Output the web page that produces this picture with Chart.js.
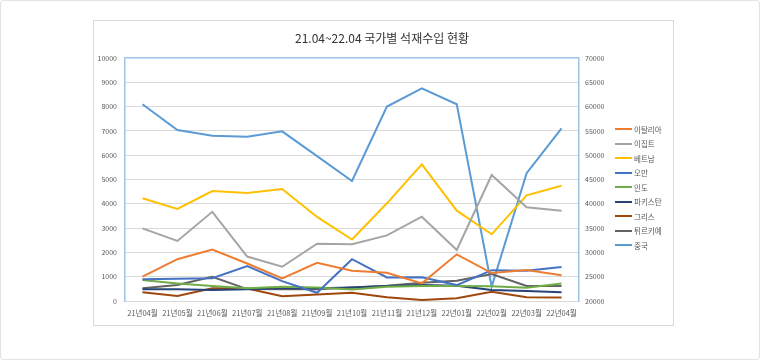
<!DOCTYPE html>
<html><head><meta charset="utf-8">
<script src="https://cdn.jsdelivr.net/npm/chart.js@4.4.1/dist/chart.umd.min.js"></script>
<style>
html,body{margin:0;padding:0;background:#fff;}
#page{position:relative;width:760px;height:360px;overflow:hidden;}
#outer{position:absolute;left:0;top:0;width:760px;height:360px;box-sizing:border-box;border:1px solid #e3e3e3;border-radius:3px;}
#frame{position:absolute;left:93px;top:20px;width:581px;height:306px;box-sizing:border-box;border:1px solid #d9d9d9;}
canvas{position:absolute;left:0;top:0;}
#legend{position:absolute;left:615px;top:121.75px;font-family:'Noto Sans CJK KR';font-size:7.5px;color:#595959;}
.item{height:14.5px;display:flex;align-items:center;white-space:nowrap;}
.swatch{width:17px;height:2px;margin-right:2px;}
</style></head>
<body>
<div id="page">
  <div id="outer"></div>
  <div id="frame"></div>
  <canvas id="c" width="760" height="360"></canvas>
  <div id="legend"></div>
</div>
<script>
const months = ['21년04월','21년05월','21년06월','21년07월','21년08월','21년09월','21년10월','21년11월','21년12월','22년01월','22년02월','22년03월','22년04월'];
const seriesNames = ['이탈리아','이집트','베트남','오만','인도','파키스탄','그리스','튀르키예','중국'];
const seriesColors = ['#ED7D31','#A5A5A5','#FFC000','#4472C4','#70AD47','#264478','#9E480E','#636363','#5B9BD5'];
const italy    = [1000, 1720, 2120, 1545,  930, 1575, 1245, 1165,  725, 1920, 1150, 1280, 1060];
const egypt    = [2990, 2470, 3670, 1830, 1410, 2360, 2340, 2700, 3470, 2100, 5185, 3860, 3715];
const vietnam  = [4226, 3786, 4527, 4444, 4609, 3460, 2530, 4020, 5625, 3716, 2745, 4349, 4745];
const oman     = [ 890,  915,  940, 1435,  820,  340, 1720,  970,  980,  655, 1270, 1250, 1400];
const india    = [ 860,  725,  615,  520,  590,  560,  470,  590,  615,  615,  610,  550,  725];
const pakistan = [ 480,  480,  450,  480,  520,  520,  560,  615,  655,  630,  450,  410,  360];
const greece   = [ 360,  210,  520,  510,  200,  270,  340,  150,   40,  110,  380,  150,  145];
const turkiye  = [ 520,  655, 1000,  490,  480,  480,  560,  630,  750,  835, 1110,  615,  615];
const china    = [60470, 55185, 54000, 53800, 54900, 49800, 44700, 60000, 63770, 60470, 22950, 46300, 55500];
const leftTicks = {min: 0, max: 10000, step: 1000};
const rightTicks = {min: 20000, max: 70000, step: 5000};
const titleText = '21.04~22.04 국가별 석재수입 현황';

const seriesData = [italy, egypt, vietnam, oman, india, pakistan, greece, turkiye, china];
const datasets = seriesData.map((d, i) => ({
  label: seriesNames[i],
  data: d,
  borderColor: seriesColors[i],
  backgroundColor: seriesColors[i],
  borderWidth: 2,
  pointRadius: 0,
  tension: 0,
  fill: false,
  yAxisID: seriesNames[i] === '중국' ? 'y1' : 'y'
}));

const FONT = "'Noto Sans CJK KR', 'Noto Sans', sans-serif";
const BLUE = '#9dc3e6';
const GRID = '#d9d9d9';

new Chart(document.getElementById('c'), {
  type: 'line',
  data: {labels: months, datasets},
  options: {
    responsive: false,
    animation: false,
    layout: {padding: {left: 95, right: 91, top: 0, bottom: 39}},
    plugins: {
      legend: {display: false},
      tooltip: {enabled: false},
      title: {
        display: true, text: titleText,
        font: {family: FONT, size: 12, weight: 'normal'},
        color: '#333333',
        padding: {top: 30.8, bottom: 12.8}
      }
    },
    scales: {
      x: {
        offset: true,
        grid: {display: false, drawTicks: false},
        border: {display: false},
        ticks: {font: {family: FONT, size: 7.5}, color: '#595959', padding: 8, maxRotation: 0, autoSkip: false},
        afterFit: s => { s.height = 20; }
      },
      y: {
        position: 'left',
        min: leftTicks.min, max: leftTicks.max,
        ticks: {stepSize: leftTicks.step, font: {family: FONT, size: 7}, color: '#595959', padding: 8, callback: v => String(v)},
        grid: {drawTicks: false, color: c => (c.tick && c.tick.value === leftTicks.max) ? BLUE : GRID, lineWidth: c => (c.tick && c.tick.value === leftTicks.max) ? 1.5 : 1},
        border: {display: true, color: BLUE, width: 1.5},
        afterFit: s => { s.width = 30; }
      },
      y1: {
        position: 'right',
        min: rightTicks.min, max: rightTicks.max,
        ticks: {stepSize: rightTicks.step, font: {family: FONT, size: 7}, color: '#595959', padding: 6, callback: v => String(v)},
        grid: {display: false, drawTicks: false},
        border: {display: true, color: BLUE, width: 1.5},
        afterFit: s => { s.width = 90; }
      }
    }
  }
});

const lg = document.getElementById('legend');
seriesNames.forEach((n, i) => {
  const it = document.createElement('div');
  it.className = 'item';
  const sw = document.createElement('span');
  sw.className = 'swatch';
  sw.style.background = seriesColors[i];
  const tx = document.createElement('span');
  tx.textContent = n;
  it.appendChild(sw); it.appendChild(tx);
  lg.appendChild(it);
});
</script>
</body></html>
